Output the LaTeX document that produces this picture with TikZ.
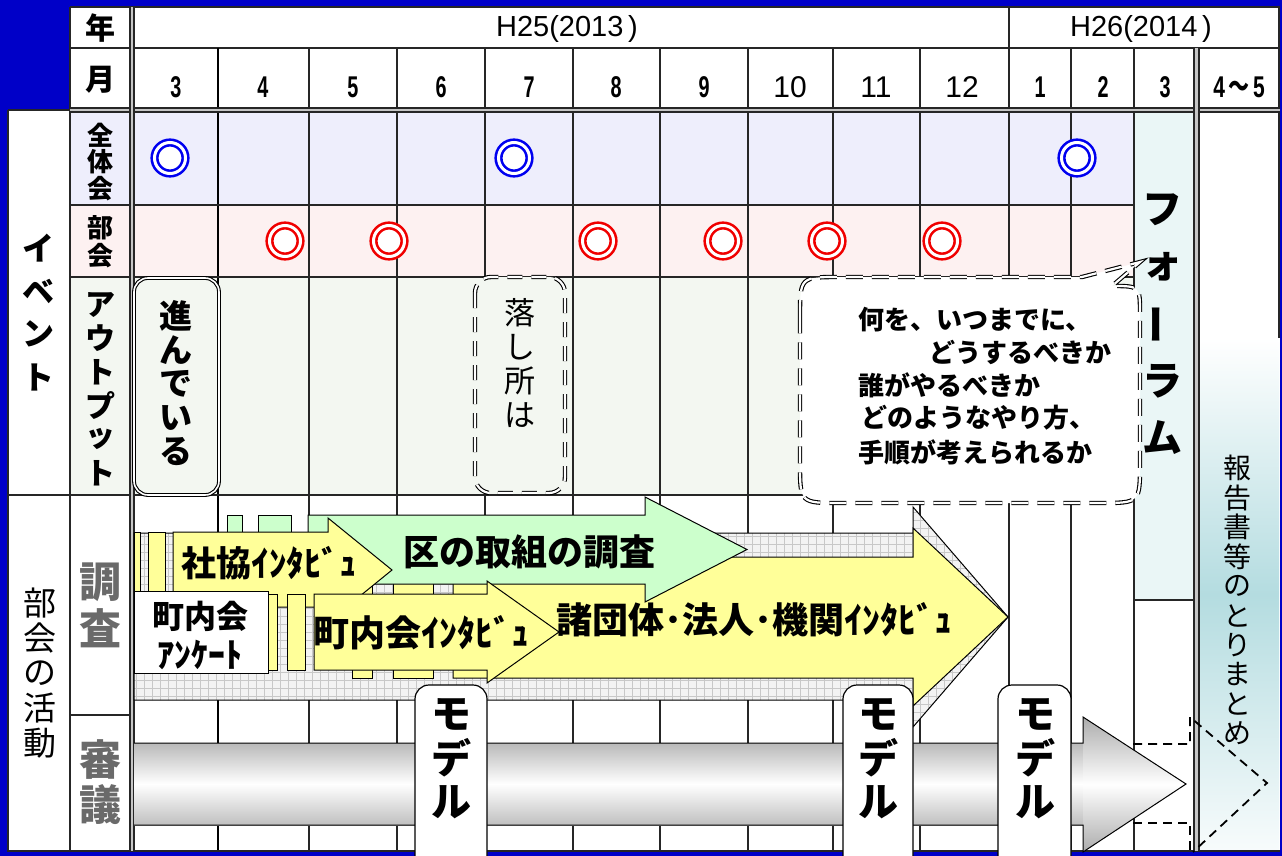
\documentclass[tikz,border=0pt]{standalone}
\usepackage{fontspec}
\usepackage{graphicx}
\setmainfont{Liberation Sans}
\newfontfamily\jp{Noto Sans CJK JP}
\definecolor{bgblue}{HTML}{0000C8}
\definecolor{rowblue}{HTML}{EEEEFC}
\definecolor{rowpink}{HTML}{FDF1F1}
\definecolor{rowgreen}{HTML}{F3F7F1}
\definecolor{forum}{HTML}{EAF6F6}
\definecolor{ylw}{HTML}{FFFF99}
\definecolor{grn}{HTML}{CCFFCC}
\definecolor{gridfill}{HTML}{F3F3F3}
\definecolor{gridline}{HTML}{C8C8C8}
\definecolor{tealc}{HTML}{B4DCE0}
\definecolor{lblgray}{HTML}{6A6A6A}
\definecolor{circblue}{HTML}{0000F0}
\definecolor{circred}{HTML}{F00000}
\newcommand{\myfs}[1]{\fontsize{#1}{#1}\selectfont}
\newcommand{\vchars}[6]{%
  \foreach \c [count=\i] in {#6} {\node[font=#5, inner sep=0pt] (#1\i) at (#2, {#3+#4*(\i-1)}) {\c};}}
\tikzset{
  gl/.style={line width=1.3pt, black!85},
  dcirc/.style={circle, minimum size=31pt, inner sep=0pt, fill=white, draw=#1, line width=2.6pt, double=white, double distance=3pt},
  arr/.style={draw=black, line width=1pt},
  ddash/.style={draw=black, line width=1.1pt, double=white, double distance=2.2pt, dash pattern=on 17pt off 9pt},
  modelbox/.style={fill=white, draw=black, line width=1.2pt, rounded corners=14pt},
  month/.style={font=\bfseries\myfs{30}},
  monthr/.style={font=\myfs{30}},
  jb/.style={font=\jp\bfseries\myfs{#1}, inner sep=0pt},
}
\begin{document}
\begin{tikzpicture}[x=1pt,y=-1pt]
\useasboundingbox (0,0) rectangle (1282,856);
\fill[bgblue] (0,0) rectangle (1282,856);
\fill[white] (70,7) rectangle (1280,110);
\fill[white] (8,110) rectangle (1280,851);
% row fills
\fill[rowblue] (70,112) rectangle (1134,205);
\fill[rowpink] (70,205) rectangle (1134,277);
\fill[rowgreen] (70,277) rectangle (1134,495);
\fill[forum] (1134,112) rectangle (1196,600);
\shade[top color=white, bottom color=white!90!tealc, middle color=tealc] (1199,338) rectangle (1279,851);
% grid lines
\draw[gl] (70,48) -- (1280,48);
\draw[gl] (1009,7) -- (1009,48);
\foreach \x in {218,309,397,485,573,660,748,833,920,1009,1071,1134} \draw[gl] (\x,48) -- (\x,851);
\draw[line width=2.4pt] (218,48) -- (218,851);
\draw[gl] (8,110) -- (70,110);
\draw[gl] (70,205) -- (1134,205);
\draw[gl] (70,277) -- (1134,277);
\draw[gl] (8,495) -- (1134,495);
\draw[gl] (70,715) -- (130,715);
\draw[gl] (1134,600) -- (1196,600);
\draw[gl] (70,7) -- (1280,7);
\draw[gl] (70,7) -- (70,851);
\draw[gl] (8,110) -- (8,851) -- (1280,851);
\draw[gl] (1279,7) -- (1279,338);
\fill[gray!45] (70,108) rectangle (1280,112);
\draw[gl] (70,108) -- (1280,108) (70,112) -- (1280,112);
\fill[gray!45] (130,7) rectangle (134,851);
\draw[gl] (130,7) -- (130,851) (134,7) -- (134,851);
\fill[gray!45] (1194,48) rectangle (1199,851);
\draw[gl] (1194,48) -- (1194,851) (1199,48) -- (1199,851);
% header texts
\node[jb=30] (nen) at (100,28) {年};
\node[jb=30] (tsuki) at (100,80) {月};
\node[font=\myfs{29}] (h25) at (567,29) {H25(2013\,)};
\node[font=\myfs{29}] (h26) at (1141,29) {H26(2014\,)};
\node[month] (m3) at (176,87) {\scalebox{0.66}[1]{3}};
\node[month] (m4) at (263,87) {\scalebox{0.66}[1]{4}};
\node[month] (m5) at (353,87) {\scalebox{0.66}[1]{5}};
\node[month] (m6) at (441,87) {\scalebox{0.66}[1]{6}};
\node[month] (m7) at (529,87) {\scalebox{0.66}[1]{7}};
\node[month] (m8) at (616,87) {\scalebox{0.66}[1]{8}};
\node[month] (m9) at (704,87) {\scalebox{0.66}[1]{9}};
\node[monthr] (m10) at (790,87) {10};
\node[monthr] (m11) at (876,87) {11};
\node[monthr] (m12) at (962,87) {12};
\node[month] (m1) at (1040,87) {\scalebox{0.66}[1]{1}};
\node[month] (m2) at (1103,87) {\scalebox{0.66}[1]{2}};
\node[month] (m3b) at (1165,87) {\scalebox{0.66}[1]{3}};
\node[month] (m45) at (1239,87) {\scalebox{0.7}[1]{4\,{\jp ～}\,5}};
% row labels
\vchars{zt}{100}{135}{27}{\jp\bfseries\myfs{26}}{全,体,会}
\vchars{bk}{100}{228}{28}{\jp\bfseries\myfs{26}}{部,会}
\vchars{op}{100}{305}{33.6}{\jp\bfseries\myfs{30}}{ア,ウ,ト,プ,ッ,ト}
\vchars{ev}{38}{248}{43}{\jp\bfseries\myfs{32}}{イ,ベ,ン,ト}
\vchars{bu}{40}{603}{35}{\jp\myfs{33}}{部,会,の,活,動}
\vchars{cs}{100}{582}{46}{\jp\bfseries\myfs{42}\color{lblgray}}{調,査}
\vchars{sg}{100}{760}{45}{\jp\bfseries\myfs{42}\color{lblgray}}{審,議}
% circles
\node[dcirc=circblue] (z1) at (170,158) {};
\node[dcirc=circblue] (z2) at (514,158) {};
\node[dcirc=circblue] (z3) at (1077,158) {};
\node[dcirc=circred] (r1) at (285,241) {};
\node[dcirc=circred] (r2) at (389,241) {};
\node[dcirc=circred] (r3) at (598,241) {};
\node[dcirc=circred] (r4) at (723,241) {};
\node[dcirc=circred] (r5) at (827,241) {};
\node[dcirc=circred] (r6) at (942,241) {};
% output boxes
\draw[fill=rowgreen, line width=1.1pt, double=white, double distance=1.6pt, rounded corners=14pt] (134,278) rectangle (219,495);
\vchars{sd}{176}{316}{34}{\jp\bfseries\myfs{33}}{進,ん,で,い,る}
\draw[fill=rowgreen, ddash, dash pattern=on 15pt off 9pt, rounded corners=16pt] (475,277) rectangle (565,493);
\vchars{od}{520}{313}{34}{\jp\myfs{31}}{落,し,所,は}
\draw[fill=white, ddash] (800,317) .. controls (800,277) .. (840,277) -- (1082,277) -- (1140,262) -- (1112,286) .. controls (1140,286) .. (1140,314) -- (1140,463) .. controls (1140,503) .. (1100,503) -- (840,503) .. controls (800,503) .. (800,463) -- cycle;
\node[jb=26, anchor=west] (q1) at (858,320) {何を、いつまでに、};
\node[jb=26, anchor=east] (q2) at (1112,352) {どうするべきか};
\node[jb=26, anchor=west] (q3) at (858,385) {誰がやるべきか};
\node[jb=26, anchor=west] (q4) at (861,418) {どのようなやり方、};
\node[jb=26, anchor=west] (q5) at (858,452) {手順が考えられるか};
% forum
\vchars{fr}{1162}{210}{57}{\jp\bfseries\myfs{40}}{フ,ォ,{\rotatebox{90}{ー}},ラ,ム}
\vchars{hk}{1237}{468}{29.5}{\jp\myfs{28}}{報,告,書,等,の,と,り,ま,と,め}
% activity arrows
\path[fill=gridfill, draw=black, line width=1pt, path picture={\draw[gridline, line width=0.6pt, step=8pt] (path picture bounding box.south west) grid (path picture bounding box.north east);}]
  (134,533) -- (913,533) -- (913,507) -- (1008,617) -- (913,727) -- (913,700) -- (134,700) -- cycle;
\draw[arr, fill=ylw] (352,557) rectangle (372,678) (393,557) rectangle (433,678);
\draw[arr, fill=ylw] (453,557) -- (913,557) -- (913,528) -- (1008,617) -- (913,706) -- (913,678) -- (453,678) -- cycle;
\draw[arr, fill=grn] (227,515) rectangle (242,584) (258,515) rectangle (291,584);
\draw[arr, fill=grn] (308,515) -- (645,515) -- (645,497) -- (747,549.5) -- (645,602) -- (645,584) -- (308,584) -- cycle;
\draw[arr, fill=ylw] (134,532) rectangle (140,607) (148,532) rectangle (165,607);
\draw[arr, fill=ylw] (173,532) -- (328,532) -- (328,518) -- (392,570) -- (328,622) -- (328,607) -- (173,607) -- cycle;
\draw[arr, fill=ylw] (268,594) rectangle (277,670) (287,594) rectangle (305,670);
\draw[arr, fill=ylw] (314,594) -- (487,594) -- (487,581) -- (559,632) -- (487,683) -- (487,670) -- (314,670) -- cycle;
\draw[arr, fill=white] (134,591) rectangle (268,673);
\node[jb=36] (ku) at (529,552) {区の取組の調査};
\node[jb=35] (sk) at (269,563) {社協ｲﾝﾀﾋﾞｭ};
\node[jb=36] (ci) at (421,633) {町内会ｲﾝﾀﾋﾞｭ};
\node[jb=36] (sd2) at (754,620) {諸団体･法人･機関ｲﾝﾀﾋﾞｭ};
\node[jb=32] (ca1) at (200,616) {町内会};
\node[jb=34] (ca2) at (200,655) {ｱﾝｹｰﾄ};
% deliberation tube
\shade[top color=gray!55, bottom color=gray!50, middle color=white] (134,743) rectangle (1083,825);
\shade[top color=gray!65, bottom color=gray!65, middle color=white] (1083,717) -- (1186,784) -- (1083,852) -- cycle;
\draw[line width=1pt] (134,743) -- (1083,743) -- (1083,717) -- (1186,784) -- (1083,852) -- (1083,825) -- (134,825);
\draw[line width=1.8pt, dash pattern=on 9pt off 6pt] (1133,744) -- (1190,744) -- (1190,717) -- (1267,783) -- (1193,852);
\draw[line width=1.8pt, dash pattern=on 9pt off 6pt] (1133,823) -- (1190,823) -- (1190,856);
% model boxes
\draw[modelbox] (415,862) -- (415,685) -- (487,685) -- (487,862);
\draw[modelbox] (843,862) -- (843,685) -- (913,685) -- (913,862);
\draw[modelbox] (998,862) -- (998,685) -- (1071,685) -- (1071,862);
\vchars{ma}{451}{714}{44}{\jp\bfseries\myfs{40}}{モ,デ,ル}
\vchars{mb}{878}{714}{44}{\jp\bfseries\myfs{40}}{モ,デ,ル}
\vchars{mc}{1035}{714}{44}{\jp\bfseries\myfs{40}}{モ,デ,ル}
\end{tikzpicture}
\end{document}
